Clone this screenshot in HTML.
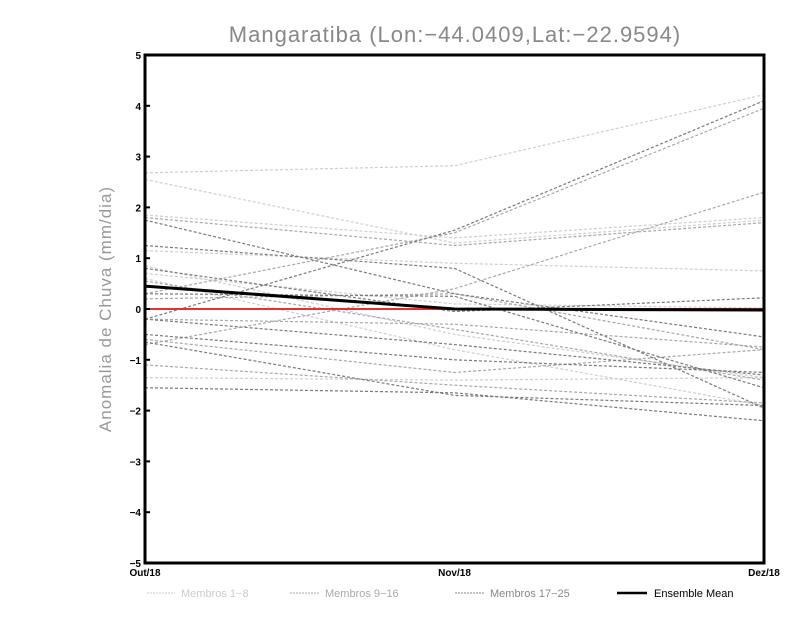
<!DOCTYPE html>
<html><head><meta charset="utf-8"><style>
body{margin:0;background:#fff;width:800px;height:618px;overflow:hidden}
svg text{font-family:"Liberation Sans",sans-serif}
</style></head><body>
<svg id="chart" width="800" height="618">
<text x="455" y="42" text-anchor="middle" font-size="22" fill="#888" letter-spacing="1">Mangaratiba (Lon:−44.0409,Lat:−22.9594)</text>
<text transform="translate(111,309) rotate(-90)" text-anchor="middle" font-size="17" fill="#999" letter-spacing="1">Anomalia de Chuva (mm/dia)</text>
<g id="marks"></g>
<g id="axes"></g>
<g id="legend">
<line x1="147" y1="593" x2="175" y2="593" stroke="#ccc" stroke-dasharray="2,1"/>
<text x="181" y="597" font-size="11" fill="#ccc">Membros 1−8</text>
<line x1="290" y1="593" x2="319" y2="593" stroke="#aaa" stroke-dasharray="2,1"/>
<text x="325" y="597" font-size="11" fill="#aaa">Membros 9−16</text>
<line x1="455" y1="593" x2="484" y2="593" stroke="#888" stroke-dasharray="2,1"/>
<text x="490" y="597" font-size="11" fill="#888">Membros 17−25</text>
<line x1="617" y1="593" x2="647" y2="593" stroke="#000" stroke-width="2.5"/>
<text x="654" y="597" font-size="11" fill="#000">Ensemble Mean</text>
</g>
</svg>
<script>
const categories=["Out/18","Nov/18","Dez/18"];
const yTicks=[-5,-4,-3,-2,-1,0,1,2,3,4,5];
const membersLight=[[2.68,2.82,4.22],[2.55,1.3,1.75],[1.85,1.4,1.8],[1.15,0.9,0.75],[0.85,-0.5,-1.35],[-1.35,-1.4,-1.35],[0.6,-0.8,-1.9],[0.7,0.1,0.02]];
const membersMid=[[1.8,1.25,1.7],[-0.7,0.4,2.3],[0.3,1.5,3.95],[-0.2,-0.3,-0.75],[0.55,-0.4,-1.4],[-0.6,-1.25,-0.8],[0.2,0.3,-0.8],[-1.1,-1.5,-1.85]];
const membersDark=[[-0.2,1.55,4.1],[1.75,0.3,-0.55],[1.25,0.8,-1.95],[-0.5,-1.0,-1.25],[-0.2,-0.7,-1.3],[0.3,0.25,-1.55],[-0.65,-1.7,-1.9],[-1.55,-1.65,-2.2],[0.8,-0.05,0.22]];
const ensembleMean=[0.45,0.0,-0.02];
const NS="http://www.w3.org/2000/svg";
const X0=145,X1=764,Y0=563,Y1=55;
function xs(i){return X0+(X1-X0)*i/(categories.length-1);}
function ys(v){return Y0-(v+5)/10*(Y0-Y1);}
const marks=document.getElementById('marks'),axes=document.getElementById('axes');
function line(vals,color,w,dash,name){
 const p=document.createElementNS(NS,'polyline');
 p.setAttribute('points',vals.map((v,i)=>xs(i)+','+ys(v)).join(' '));
 p.setAttribute('fill','none');p.setAttribute('stroke',color);p.setAttribute('stroke-width',w);
 if(dash)p.setAttribute('stroke-dasharray',dash);
 
 
 marks.appendChild(p);
}
membersLight.forEach((m,i)=>line(m,'#cfcfcf',1.2,'3,2','member-line-'+(i+1)));
membersMid.forEach((m,i)=>line(m,'#a8a8a8',1.2,'3,2','member-line-'+(i+9)));
membersDark.forEach((m,i)=>line(m,'#7a7a7a',1.2,'3,2','member-line-'+(i+17)));
const z=document.createElementNS(NS,'line');
z.setAttribute('x1',X0);z.setAttribute('x2',X1);z.setAttribute('y1',ys(0));z.setAttribute('y2',ys(0));
z.setAttribute('stroke','#e83030');z.setAttribute('stroke-width',2);


marks.appendChild(z);
line(ensembleMean,'#000',3,null,'ensemble-mean-line');
const r=document.createElementNS(NS,'rect');
r.setAttribute('x',X0);r.setAttribute('y',Y1);r.setAttribute('width',X1-X0);r.setAttribute('height',Y0-Y1);
r.setAttribute('fill','none');r.setAttribute('stroke','#000');r.setAttribute('stroke-width',3);


axes.appendChild(r);
yTicks.forEach(t=>{
 const l=document.createElementNS(NS,'line');
 l.setAttribute('x1',X0);l.setAttribute('x2',X0+5);l.setAttribute('y1',ys(t));l.setAttribute('y2',ys(t));l.setAttribute('stroke','#000');l.setAttribute('stroke-width',2);
 
 
 axes.appendChild(l);
 const tx=document.createElementNS(NS,'text');
 tx.setAttribute('x',X0-4);tx.setAttribute('y',ys(t)+4);tx.setAttribute('text-anchor','end');
 tx.setAttribute('font-size','10');tx.setAttribute('font-weight','bold');
 tx.textContent=t<0?'−'+(-t):String(t);
 
 
 axes.appendChild(tx);
});
categories.forEach((c,i)=>{
 const tx=document.createElementNS(NS,'text');
 tx.setAttribute('x',xs(i));tx.setAttribute('y',576);
 tx.setAttribute('text-anchor',i==0?'middle':(i==2?'middle':'middle'));
 tx.setAttribute('font-size','10');tx.setAttribute('font-weight','bold');
 tx.textContent=c;
 
 
 axes.appendChild(tx);
});
</script>
</body></html>
